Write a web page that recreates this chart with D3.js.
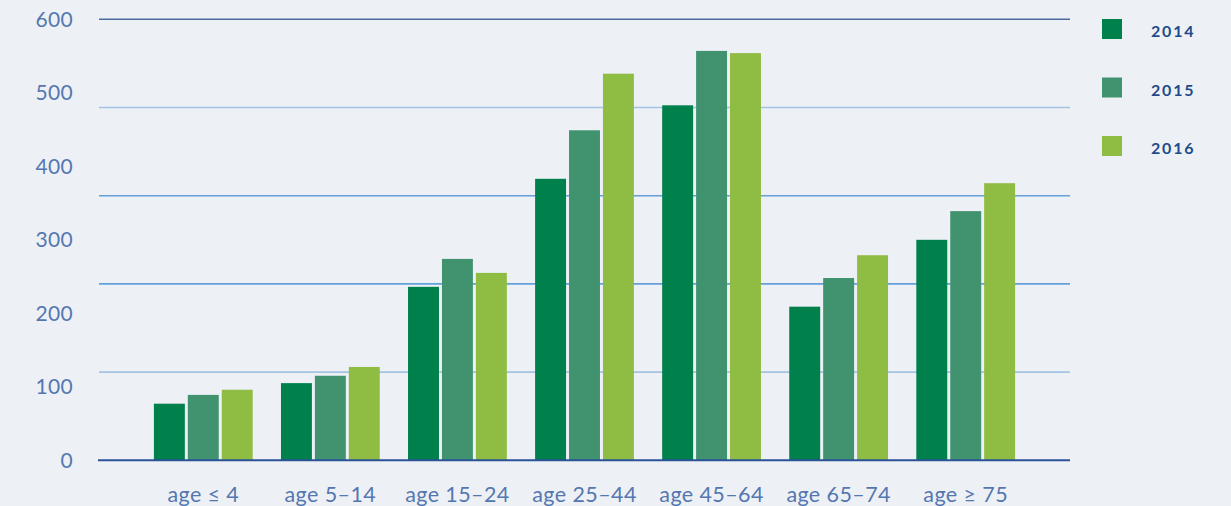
<!DOCTYPE html>
<html>
<head>
<meta charset="utf-8">
<script src="https://cdn.jsdelivr.net/npm/d3@7"></script>
<style>
  body { margin: 0; background: #edf1f6; }
  svg { display: block; font-family: Lato, 'Open Sans', sans-serif; }
</style>
</head>
<body>
<div id="graf"></div>
<script>
// datos
grupos = ['age ≤ 4', 'age 5–14', 'age 15–24', 'age 25–44', 'age 45–64', 'age 65–74', 'age ≥ 75']
anios = ['2014', '2015', '2016']
v2014 = [77, 105, 236, 383, 483, 209, 300]
v2015 = [89, 115, 274, 449, 557, 248, 339]
v2016 = [96, 127, 255, 526, 554, 279, 377]
ticksY = [0, 100, 200, 300, 400, 500, 600]
lineasGrid = [120, 240, 360, 480]
colores = ['#00804a', '#41936f', '#8fbc42']

series = [v2014, v2015, v2016]
datos = grupos.map((g, i) => ({ grupo: g, valores: anios.map((a, j) => ({ anio: a, valor: series[j][i] })) }))

// configuración
ancho_total = 1231
alto_total = 506
izq = 99
der = 1070
arriba = 19.3
abajo = 460.3

svg = d3.select('#graf').append('svg')
        .attr('width', ancho_total)
        .attr('height', alto_total)

y = d3.scaleLinear().domain([0, 600]).range([abajo, arriba])

x0 = d3.scaleBand()
       .domain(grupos)
       .range([izq, der])
       .paddingInner(0.2225)
       .paddingOuter(0.432)

x1 = d3.scaleBand()
       .domain(anios)
       .range([0, x0.bandwidth()])
       .paddingInner(0.088)

color = d3.scaleOrdinal().domain(anios).range(colores)

// líneas de la rejilla
gridColor = ['#a3c3e2', '#64a0da', '#64a0da', '#a3c3e2']
svg.append('g').selectAll('line')
   .data(lineasGrid)
   .join('line')
     .attr('x1', izq).attr('x2', der)
     .attr('y1', d => y(d)).attr('y2', d => y(d))
     .attr('stroke', (d, i) => gridColor[i])
     .attr('stroke-width', 1.6)

svg.append('line')
   .attr('x1', izq).attr('x2', der)
   .attr('y1', y(600)).attr('y2', y(600))
   .attr('stroke', '#4d6a9c')
   .attr('stroke-width', 1.5)

// barras
grp = svg.append('g').selectAll('g')
         .data(datos)
         .join('g')
           .attr('transform', d => `translate(${x0(d.grupo)},0)`)

grp.selectAll('rect')
   .data(d => d.valores)
   .join('rect')
     .attr('x', d => x1(d.anio))
     .attr('width', x1.bandwidth())
     .attr('y', d => y(d.valor))
     .attr('height', d => y(0) - y(d.valor))
     .attr('fill', d => color(d.anio))

// línea base
svg.append('line')
   .attr('x1', izq - 1).attr('x2', der)
   .attr('y1', y(0)).attr('y2', y(0))
   .attr('stroke', '#2a5298')
   .attr('stroke-width', 2)

// eje y
svg.append('g').selectAll('text')
   .data(ticksY)
   .join('text')
     .attr('x', 73)
     .attr('y', d => y(d))
     .attr('dy', '0.36em')
     .attr('text-anchor', 'end')
     .attr('fill', '#5577b0')
     .style('font-size', '21px')
     .style('letter-spacing', '0.3px')
     .text(d => d)

// eje x
svg.append('g').selectAll('text')
   .data(grupos)
   .join('text')
     .attr('x', d => x0(d) + x0.bandwidth() / 2)
     .attr('y', 501.5)
     .attr('text-anchor', 'middle')
     .attr('fill', '#5577b0')
     .style('font-size', '21.5px')
     .style('letter-spacing', '0.4px')
     .text(d => d)

// leyenda
ley = svg.append('g').selectAll('g')
         .data(anios)
         .join('g')
           .attr('transform', (d, i) => `translate(1102, ${19 + i * 58.5})`)

ley.append('rect')
   .attr('width', 20).attr('height', 20)
   .attr('fill', d => color(d))

ley.append('text')
   .attr('x', 49)
   .attr('y', 18)
   .attr('fill', '#1f4b8a')
   .style('font-size', '16px')
   .style('font-weight', 'bold')
   .style('letter-spacing', '1.8px')
   .text(d => d)
</script>
</body>
</html>
